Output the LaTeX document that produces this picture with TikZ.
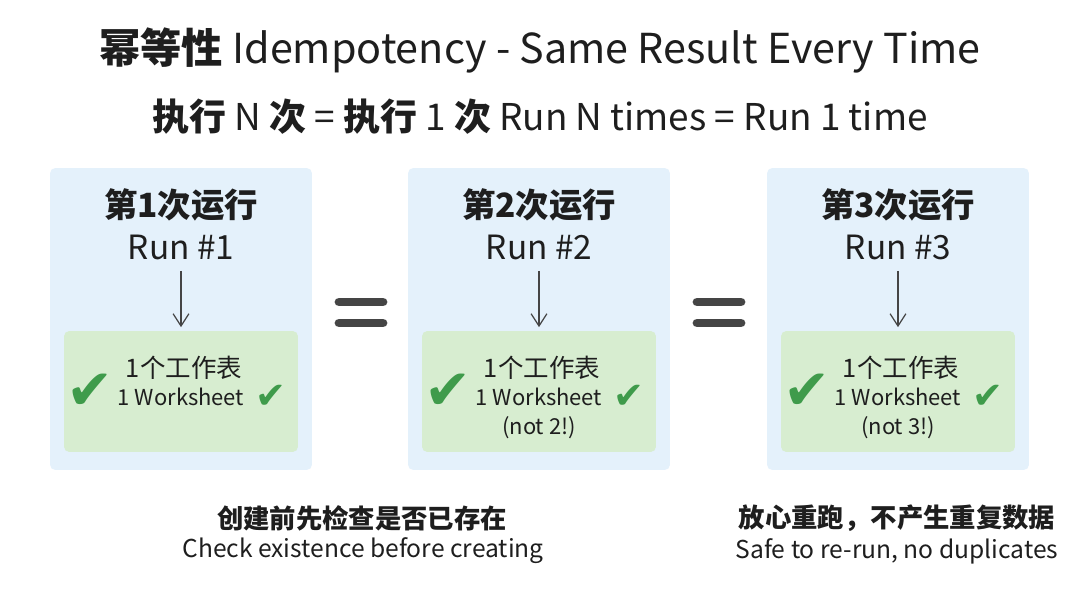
\documentclass[tikz,border=0pt]{standalone}
\usepackage{fontspec}
\setmainfont{Noto Sans CJK SC}
\newfontfamily\symfont{DejaVu Sans}
\usetikzlibrary{arrows.meta,positioning}

\definecolor{panelblue}{HTML}{E4F1FB}
\definecolor{resultgreen}{HTML}{D7EDD0}
\definecolor{checkgreen}{HTML}{3F9B4B}
\definecolor{inkgray}{HTML}{1E1E1E}
\definecolor{eqgray}{HTML}{454545}

\tikzset{
  runpanel/.style={fill=panelblue, rounded corners=3pt, minimum width=5.24cm, minimum height=6.04cm, inner sep=0pt},
  resultbox/.style={fill=resultgreen, rounded corners=3pt, minimum width=4.68cm, minimum height=2.42cm, inner sep=0pt},
  titletxt/.style={text=inkgray, font=\fontsize{23.5}{28}\selectfont},
  subtxt/.style={text=inkgray, font=\fontsize{21}{25}\selectfont},
  headzh/.style={text=inkgray, font=\fontsize{19}{23}\selectfont\bfseries},
  headen/.style={text=inkgray, font=\fontsize{19}{23}\selectfont},
  resultzh/.style={text=inkgray, font=\fontsize{14.5}{17}\selectfont},
  resulten/.style={text=inkgray, font=\fontsize{12.5}{15}\selectfont},
  notezh/.style={text=inkgray, font=\fontsize{15}{18}\selectfont\bfseries},
  noteen/.style={text=inkgray, font=\fontsize{14}{17}\selectfont},
  bigcheck/.style={text=checkgreen, font=\symfont\fontsize{32}{32}\selectfont, inner sep=0pt},
  smallcheck/.style={text=checkgreen, font=\symfont\fontsize{21}{21}\selectfont, inner sep=0pt},
  flowarrow/.style={draw=eqgray, line width=0.7pt, -{Straight Barb[length=7pt,width=9pt]}, shorten <=3pt, shorten >=2pt},
  eqbar/.style={draw=eqgray, line width=5pt, line cap=round}
}

\begin{document}
\begin{tikzpicture}[x=0.02cm, y=-0.02cm]
  \useasboundingbox[fill=white] (0,0) rectangle (1080,602);

  % Title
  \node[titletxt] (title) at (540,50) {\textbf{幂等性} Idempotency - Same Result Every Time};
  \node[subtxt] (subtitle) at (540,117) {\textbf{执行} N \textbf{次} = \textbf{执行} 1 \textbf{次} Run N times = Run 1 time};

  % Three runs
  \foreach \i/\x in {1/181, 2/539, 3/898} {
    \node[runpanel] (panel\i) at (\x,319) {};
    \node[resultbox] (result\i) at (\x,391.5) {};
    \node[headzh] (headzh\i) at (\x,205) {第\i{}次运行};
    \node[headen] (headen\i) at (\x,247) {Run \#\i};
    \draw[flowarrow] (headen\i) -- (result\i);
    \node[resultzh] (resultzh\i) at (\x+3,368) {1个工作表};
    \node[resulten] (resulten\i) at (\x,397) {1 Worksheet};
    \node[bigcheck] (bigcheck\i) at (\x-91,392) {✔};
    \node[smallcheck] (smallcheck\i) at (\x+90,397) {✔};
  }
  \foreach \i/\x in {2/539, 3/898}
    \node[resulten] (extra\i) at (\x,428) {(not \i!)};

  % Equal signs
  \foreach \x in {361,719}
    \foreach \y in {302,323}
      \draw[eqbar] (\x-22,\y) -- (\x+22,\y);

  % Notes
  \node[notezh] (notezh1) at (362,518) {创建前先检查是否已存在};
  \node[noteen] (noteen1) at (363,551) {Check existence before creating};
  \node[notezh] (notezh2) at (897,518) {放心重跑，不产生重复数据};
  \node[noteen] (noteen2) at (897,551) {Safe to re-run, no duplicates};

\end{tikzpicture}
\end{document}
